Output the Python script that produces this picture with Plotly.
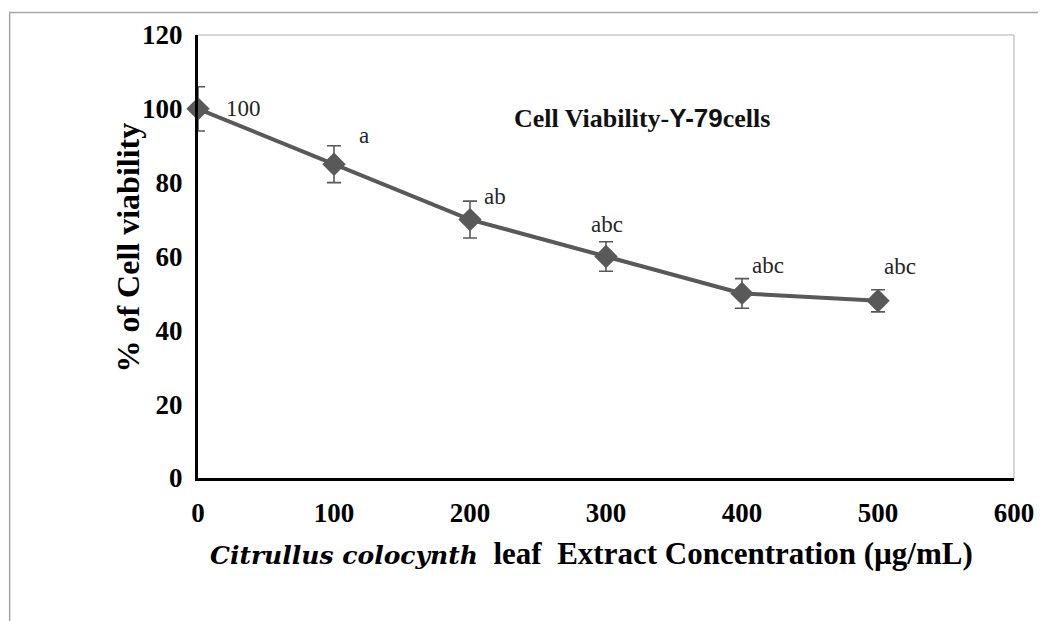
import plotly.graph_objects as go

# ---- data ----
concentration = [0, 100, 200, 300, 400, 500]
viability = [100, 85, 70, 60, 50, 48]
error = [6, 5, 5, 4, 4, 3]
point_labels = ["100", "a", "ab", "abc", "abc", "abc"]
x_ticks = [0, 100, 200, 300, 400, 500, 600]
y_ticks = [0, 20, 40, 60, 80, 100, 120]

# page has an 8px body margin; work in screen pixels and convert
OFF = 8
W, H = 1046 - OFF, 621 - OFF
PX_L, PX_R, PX_T, PX_B = 198, 1019, 35, 478   # plot area in screen px
L, T = PX_L - OFF, PX_T - OFF
R = W - (PX_R - OFF)
B = H - (PX_B - OFF)
PW, PH = PX_R - PX_L, PX_B - PX_T

def sx(px):
    return (px - PX_L) / PW

def sy(py):
    return (PX_B - py) / PH

SERIF = "Liberation Serif"
LINE = "#595959"

fig = go.Figure()
fig.add_trace(go.Scatter(
    x=concentration, y=viability,
    mode="lines+markers",
    line=dict(color=LINE, width=4),
    marker=dict(symbol="diamond", size=18, color=LINE),
    error_y=dict(type="data", array=error, visible=True, color=LINE,
                 thickness=1.6, width=7),
    showlegend=False, cliponaxis=False,
))

# data labels (offsets in pixels)
label_shift = [(45, 0), (30, 29), (25, 23), (1, 32), (26, 28), (22, 34)]
for xv, yv, txt, (dx, dy) in zip(concentration, viability, point_labels, label_shift):
    fig.add_annotation(x=xv, y=yv, text=txt, showarrow=False,
                       xshift=dx, yshift=dy,
                       font=dict(family=SERIF, size=23, color="#262626"))

# chart title
fig.add_annotation(
    xref="paper", yref="paper", x=sx(645), y=sy(101),
    text="<b>Cell Viability-</b><b><span style='font-family:Liberation Sans'>Y-79</span></b><b>cells</b>",
    showarrow=False, font=dict(family=SERIF, size=26, color="#111111"))

# axis titles
fig.add_annotation(
    xref="paper", yref="paper", x=sx(594), y=sy(573),
    text="<b><i><span style='font-family:DejaVu Serif;font-size:25px'>Citrullus colocynth</span></i></b>  <b>leaf  Extract Concentration (µg/mL)</b>",
    showarrow=False, font=dict(family=SERIF, size=31, color="black"))
fig.add_annotation(
    xref="paper", yref="paper", x=sx(107), y=sy(248),
    text="<b>% of Cell viability</b>", textangle=-90,
    showarrow=False, font=dict(family=SERIF, size=32, color="black"))

shapes = [
    # inner chart frame top/right (light gray)
    dict(type="line", xref="paper", yref="paper", x0=0, x1=1, y0=1, y1=1,
         line=dict(color="#c8c8c8", width=1.5)),
    dict(type="line", xref="paper", yref="paper", x0=1, x1=1, y0=0, y1=1,
         line=dict(color="#c8c8c8", width=1.5)),
    # outer page frame
    dict(type="line", xref="paper", yref="paper",
         x0=sx(8), x1=sx(1060), y0=sy(12.5), y1=sy(12.5),
         line=dict(color="#a6a6a6", width=1.5)),
    dict(type="line", xref="paper", yref="paper",
         x0=sx(8.5), x1=sx(8.5), y0=sy(12), y1=sy(640),
         line=dict(color="#a6a6a6", width=1.5)),
]

fig.update_layout(
    width=W, height=H,
    margin=dict(l=L, r=R, t=T, b=B),
    paper_bgcolor="white", plot_bgcolor="white",
    shapes=shapes,
    xaxis=dict(range=[0, 600], tickvals=x_ticks, ticks="", showgrid=False,
               zeroline=False, showline=True, linecolor="black", linewidth=3,
               tickfont=dict(family=SERIF, size=27, color="black", weight="bold"),
               ticklabelstandoff=9),
    yaxis=dict(range=[0, 120], tickvals=y_ticks, ticks="", showgrid=False,
               zeroline=False, showline=True, linecolor="black", linewidth=3,
               tickfont=dict(family=SERIF, size=27, color="black", weight="bold"),
               ticklabelstandoff=7),
)

fig.write_html("out.html")
